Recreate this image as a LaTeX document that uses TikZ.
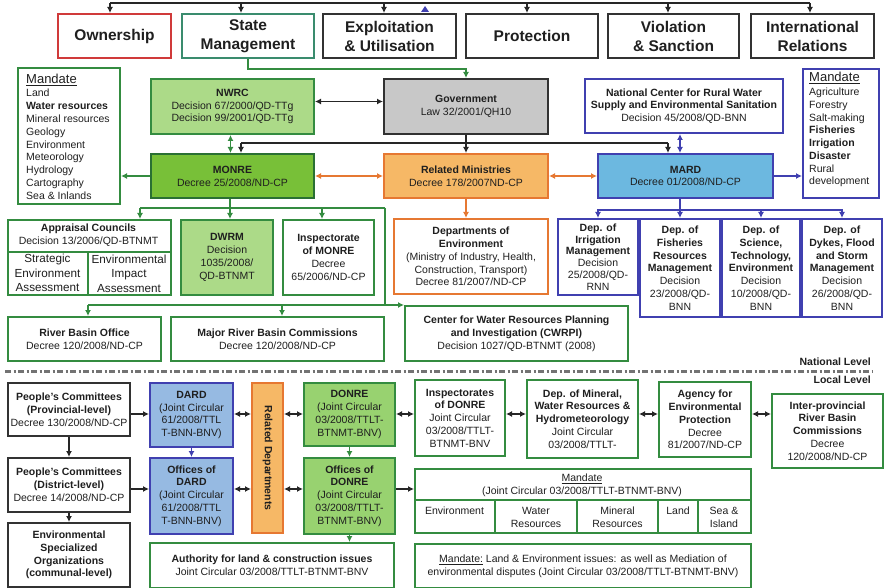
\documentclass[tikz,border=0pt]{standalone}
\usepackage{fontspec}
\setmainfont{Liberation Sans}
\usetikzlibrary{arrows.meta}
\definecolor{gcol}{RGB}{52,140,64}
\definecolor{smcol}{RGB}{58,140,110}
\definecolor{redc}{RGB}{208,58,58}
\definecolor{lgr}{RGB}{172,218,136}
\definecolor{mgr}{RGB}{120,192,56}
\definecolor{dgr}{RGB}{152,210,112}
\definecolor{govc}{RGB}{200,200,200}
\definecolor{ofill}{RGB}{246,184,102}
\definecolor{ocol}{RGB}{230,120,50}
\definecolor{bcol}{RGB}{64,64,176}
\definecolor{mardc}{RGB}{108,184,224}
\definecolor{dardc}{RGB}{150,186,226}
\definecolor{kcol}{RGB}{50,50,50}
\newcommand\fsn{\fontsize{10.5}{12.8}\selectfont}
\newcommand\fsb{\fontsize{10.5}{12.8}\selectfont\bfseries}
\begin{document}
\begin{tikzpicture}[x=1pt,y=-1pt,
  bx/.style={draw, line width=2pt, inner sep=0pt, align=center, font=\fsn, text=black!88, anchor=north west},
  sz/.style 2 args={minimum width=#1, minimum height=#2},
  gbox/.style={bx, draw=gcol, fill=white},
  obox/.style={bx, draw=ocol, fill=white},
  bbox/.style={bx, draw=bcol, fill=white},
  kbox/.style={bx, draw=kcol, fill=white},
  topbox/.style={bx, draw=kcol, fill=white, font=\fontsize{15.5}{19}\selectfont\bfseries},
  txt/.style={inner sep=0pt, font=\fsn, text=black!88, align=center},
  cn/.style={line width=1.5pt, draw=black!85},
  gc/.style={draw=gcol},
  oc/.style={draw=ocol},
  bc/.style={draw=bcol},
  ar/.style={-{Latex[length=6pt,width=6pt]}},
  dar/.style={{Latex[length=6pt,width=6pt]}-{Latex[length=6pt,width=6pt]}},
]
\useasboundingbox (0,0) rectangle (884,588);

% ---------- top row
\node[topbox, draw=redc, sz={113}{44}] (own) at (57,13) {Ownership};
\node[topbox, draw=smcol, sz={132}{44}] (sm) at (181,13) {State\\Management};
\node[topbox, sz={133}{44}] (expl) at (322,13) {Exploitation\\\& Utilisation};
\node[topbox, sz={132}{44}] (prot) at (465,13) {Protection};
\node[topbox, sz={131}{44}] (viol) at (607,13) {Violation\\\& Sanction};
\node[topbox, sz={123}{44}] (intl) at (750,13) {International\\Relations};

\coordinate (t0) at (110,3); \coordinate (t1) at (241,3); \coordinate (t2) at (384,3);
\coordinate (t3) at (527,3); \coordinate (t4) at (668,3); \coordinate (t5) at (810,3);
\draw[cn] (t0) -- (t5);
\foreach \c/\n in {t0/own,t1/sm,t2/expl,t3/prot,t4/viol,t5/intl}
  \draw[cn,ar] (\c) -- (\c |- \n.north);
\fill[bcol] (421,12) -- (429,12) -- (425,6) -- cycle;

% ---------- national level
\node[gbox, sz={102}{136}] (mandL) at (17,67) {};
\node[txt, anchor=west, font=\fontsize{13}{15}\selectfont] (mandLt) at (26,80) {\underline{Mandate}};
\node[txt, anchor=north west, align=left] (mandLl) at (26,89) {Land\\\textbf{Water resources}\\Mineral resources\\Geology\\Environment\\Meteorology\\Hydrology\\Cartography\\Sea \& Inlands};

\node[gbox, fill=lgr, sz={163}{55}] (nwrc) at (150,78) {\textbf{NWRC}\\Decision 67/2000/QD-TTg\\Decision 99/2001/QD-TTg};
\node[bx, draw=kcol, fill=govc, sz={164}{55}] (gov) at (383,78) {\textbf{Government}\\Law 32/2001/QH10};
\node[bbox, sz={198}{54}] (natc) at (584,78) {\textbf{National Center for Rural Water}\\\textbf{Supply and Environmental Sanitation}\\Decision 45/2008/QD-BNN};

\node[bbox, sz={76}{129}] (mandR) at (802,68) {};
\node[txt, anchor=west, font=\fontsize{13}{15}\selectfont] (mandRt) at (809,78) {\underline{Mandate}};
\node[txt, anchor=north west, align=left, font=\fontsize{10.5}{12.7}\selectfont] (mandRl) at (809,88) {Agriculture\\Forestry\\Salt-making\\\textbf{Fisheries}\\\textbf{Irrigation}\\\textbf{Disaster}\\Rural\\development};

\node[gbox, fill=mgr, draw=gcol!80!black, sz={163}{44}] (monre) at (150,153) {\textbf{MONRE}\\Decree 25/2008/ND-CP};
\node[bx, draw=ocol, fill=ofill, sz={164}{44}] (relmin) at (383,153) {\textbf{Related Ministries}\\Decree 178/2007ND-CP};
\node[bbox, fill=mardc, sz={175}{44}] (mard) at (597,153) {\textbf{MARD}\\Decree 01/2008/ND-CP};

% appraisal councils
\node[gbox, sz={163}{75}] (appr) at (7,219) {};
\draw[gcol, line width=2pt] (7,252) -- (170,252) (88,252) -- (88,294);
\node[txt] (apprt) at (88.5,235) {\textbf{Appraisal Councils}\\Decision 13/2006/QD-BTNMT};
\node[txt, font=\fontsize{11.7}{14.5}\selectfont] (sea) at (47.5,273) {Strategic\\Environment\\Assessment};
\node[txt, font=\fontsize{11.7}{14.5}\selectfont] (eia) at (129,273.5) {Environmental\\Impact\\Assessment};

\node[gbox, fill=lgr, sz={92}{75}] (dwrm) at (180,219) {\textbf{DWRM}\\Decision\\1035/2008/\\QD-BTNMT};
\node[gbox, sz={91}{75}] (inspm) at (282,219) {\textbf{Inspectorate}\\\textbf{of MONRE}\\Decree\\65/2006/ND-CP};
\node[obox, sz={154}{75}] (depenv) at (393,218) {\textbf{Departments of}\\\textbf{Environment}\\(Ministry of Industry, Health,\\Construction, Transport)\\Decree 81/2007/ND-CP};

\node[bbox, sz={80}{76}, font=\fontsize{10.5}{11.8}\selectfont] (irr) at (557,218) {\textbf{Dep. of}\\\textbf{Irrigation}\\\textbf{Management}\\Decision\\25/2008/QD-\\RNN};
\node[bbox, sz={80}{98}] (fish) at (639,218) {\textbf{Dep. of}\\\textbf{Fisheries}\\\textbf{Resources}\\\textbf{Management}\\Decision\\23/2008/QD-\\BNN};
\node[bbox, sz={78}{98}] (sci) at (721,218) {\textbf{Dep. of}\\\textbf{Science,}\\\textbf{Technology,}\\\textbf{Environment}\\Decision\\10/2008/QD-\\BNN};
\node[bbox, sz={80}{98}] (dykes) at (801,218) {\textbf{Dep. of}\\\textbf{Dykes, Flood}\\\textbf{and Storm}\\\textbf{Management}\\Decision\\26/2008/QD-\\BNN};

\node[gbox, sz={153}{44}] (rbo) at (7,316) {\textbf{River Basin Office}\\Decree 120/2008/ND-CP};
\node[gbox, sz={213}{44}] (mrbc) at (170,316) {\textbf{Major River Basin Commissions}\\Decree 120/2008/ND-CP};
\node[gbox, sz={223}{55}] (cwrpi) at (404,305) {\textbf{Center for Water Resources Planning}\\\textbf{and Investigation (CWRPI)}\\Decision 1027/QD-BTNMT (2008)};

% national connectors
\draw[cn,gc,ar] (sm.south) -- ++(0,10) -| (gov.north);
\draw[cn,dar] ([yshift=5pt]nwrc.east) -- ([yshift=5pt]gov.west);
\draw[cn,gc,dar] ([xshift=-2pt]nwrc.south) -- ([xshift=-2pt]monre.north);
\coordinate (gbL) at (241,143); \coordinate (gbR) at (668,143);
\draw[cn] (gov.south) -- (gov.south |- gbL);
\draw[cn] (gbL) -- (gbR);
\draw[cn,ar] (gbL) -- (gbL |- monre.north);
\draw[cn,ar] (gov.south |- gbL) -- (relmin.north);
\draw[cn,ar] (gbR) -- (gbR |- mard.north);
\draw[cn,bc,dar] (fish.north |- natc.south) -- (fish.north |- mard.north);
\draw[cn,oc,dar] (monre.east) -- (relmin.west);
\draw[cn,oc,dar] (relmin.east) -- (mard.west);
\draw[cn,oc,ar] (relmin.south) -- (relmin.south |- depenv.north);
\draw[cn,gc,ar] (monre.west) -- (monre.west -| mandL.east);
\draw[cn,bc,ar] (mard.east) -- (mard.east -| mandR.west);

\coordinate (mb0) at (230,208); \coordinate (mbL) at (140,208);
\coordinate (mbR) at (385,208); \coordinate (mbI) at (322,208);
\draw[cn,gc] (mb0 |- monre.south) -- (mb0);
\draw[cn,gc] (mbL) -- (mbR);
\draw[cn,gc,ar] (mbL) -- (mbL |- appr.north);
\draw[cn,gc,ar] (mb0) -- (mb0 |- dwrm.north);
\draw[cn,gc,ar] (mbI) -- (mbI |- inspm.north);
\coordinate (rb) at (385,305); \coordinate (rbL) at (88,305); \coordinate (rbM) at (282,305);
\draw[cn,gc] (mbR) -- (rb);
\draw[cn,gc] (rbL) -- (rb);
\draw[cn,gc,ar] (rb) -- (cwrpi.north west);
\draw[cn,gc,ar] (rbL) -- (rbL |- rbo.north);
\draw[cn,gc,ar] (rbM) -- (rbM |- mrbc.north);

\draw[cn,bc] (fish.north |- mard.south) -- ++(0,11) coordinate (mdb);
\foreach \n in {irr,fish,sci,dykes}
  \draw[cn,bc,ar] (mdb) -| (\n.north);

% ---------- level separator
\draw[black!55, line width=3pt, dash pattern=on 6pt off 2.5pt on 2pt off 2.5pt] (5,371) -- (872,371);
\node[txt, font=\fsb, anchor=east] (natl) at (871,362) {National Level};
\node[txt, font=\fsb, anchor=east] (locl) at (871,380) {Local Level};

% ---------- local level
\node[kbox, sz={122}{53}] (pcp) at (7,382) {\textbf{People's Committees}\\\textbf{(Provincial-level)}\\Decree 130/2008/ND-CP};
\node[kbox, sz={122}{54}] (pcd) at (7,457) {\textbf{People's Committees}\\\textbf{(District-level)}\\Decree 14/2008/ND-CP};
\node[kbox, sz={122}{64}] (envs) at (7,522) {\textbf{Environmental}\\\textbf{Specialized}\\\textbf{Organizations}\\\textbf{(communal-level)}};

\node[bbox, fill=dardc, sz={83}{64}] (dard) at (149,382) {\textbf{DARD}\\(Joint Circular\\61/2008/TTL\\T-BNN-BNV)};
\node[bbox, fill=dardc, sz={83}{76}] (offdard) at (149,457) {\textbf{Offices of}\\\textbf{DARD}\\(Joint Circular\\61/2008/TTL\\T-BNN-BNV)};
\node[bx, draw=ocol, fill=ofill, sz={31}{150}] (reldep) at (251,382) {};
\node[txt, font=\fsb, rotate=-90] (reldept) at (reldep.center) {Related Departments};
\node[gbox, fill=dgr, sz={91}{63}] (donre) at (303,382) {\textbf{DONRE}\\(Joint Circular\\03/2008/TTLT-\\BTNMT-BNV)};
\node[gbox, fill=dgr, sz={91}{76}] (offdonre) at (303,457) {\textbf{Offices of}\\\textbf{DONRE}\\(Joint Circular\\03/2008/TTLT-\\BTNMT-BNV)};
\node[gbox, sz={244}{45}] (auth) at (149,542) {\textbf{Authority for land \& construction issues}\\Joint Circular 03/2008/TTLT-BTNMT-BNV};

\node[gbox, sz={90}{76}] (inspd) at (414,379) {\textbf{Inspectorates}\\\textbf{of DONRE}\\Joint Circular\\03/2008/TTLT-\\BTNMT-BNV};
\node[gbox, sz={111}{78}] (depmin) at (526,379) {\textbf{Dep. of Mineral,}\\\textbf{Water Resources \&}\\\textbf{Hydrometeorology}\\Joint Circular\\03/2008/TTLT-};
\node[gbox, sz={92}{75}] (agency) at (658,381) {\textbf{Agency for}\\\textbf{Environmental}\\\textbf{Protection}\\Decree\\81/2007/ND-CP};
\node[gbox, sz={111}{74}] (interp) at (771,393) {\textbf{Inter-provincial}\\\textbf{River Basin}\\\textbf{Commissions}\\Decree\\120/2008/ND-CP};

\node[gbox, sz={336}{64}] (mandb) at (414,468) {};
\draw[gcol, line width=2pt] (414,500) -- (750,500)
  (495,500) -- (495,532) (577,500) -- (577,532) (658,500) -- (658,532) (698,500) -- (698,532);
\node[txt] (mandbt) at (582,485.5) {\underline{Mandate}\\(Joint Circular 03/2008/TTLT-BTNMT-BNV)};
\node[txt, anchor=north] (c1) at (454.5,507) {Environment};
\node[txt, anchor=north] (c2) at (536,507) {Water\\Resources};
\node[txt, anchor=north] (c3) at (617.5,507) {Mineral\\Resources};
\node[txt, anchor=north] (c4) at (678,507) {Land};
\node[txt, anchor=north] (c5) at (724,507) {Sea \&\\Island};

\node[gbox, sz={336}{44}] (mandb2) at (414,543) {\underline{Mandate:} Land \& Environment issues: as well as Mediation of\\environmental disputes (Joint Circular 03/2008/TTLT-BTNMT-BNV)};

% local connectors
\coordinate (ly) at (0,414); \coordinate (ly2) at (0,489);
\draw[cn,ar] (pcp.east |- ly) -- (dard.west |- ly);
\draw[cn,dar] (dard.east |- ly) -- (reldep.west |- ly);
\draw[cn,dar] (reldep.east |- ly) -- (donre.west |- ly);
\draw[cn,dar] (donre.east |- ly) -- (inspd.west |- ly);
\draw[cn,dar] (inspd.east |- ly) -- (depmin.west |- ly);
\draw[cn,dar] (depmin.east |- ly) -- (agency.west |- ly);
\draw[cn,dar] (agency.east |- ly) -- (interp.west |- ly);
\draw[cn,ar] (pcp.south) -- (pcd.north);
\draw[cn,ar] (pcd.south) -- (envs.north);
\draw[cn,ar] (pcd.east |- ly2) -- (offdard.west |- ly2);
\draw[cn,dar] (offdard.east |- ly2) -- (reldep.west |- ly2);
\draw[cn,dar] (reldep.east |- ly2) -- (offdonre.west |- ly2);
\draw[cn,ar] (offdonre.east |- ly2) -- (mandb.west |- ly2);
\draw[cn,bc,ar] (dard.south) -- (offdard.north);
\draw[cn,gc,ar] (donre.south) -- (offdonre.north);
\draw[cn,gc,ar] (offdonre.south) -- (offdonre.south |- auth.north);
\end{tikzpicture}
\end{document}
